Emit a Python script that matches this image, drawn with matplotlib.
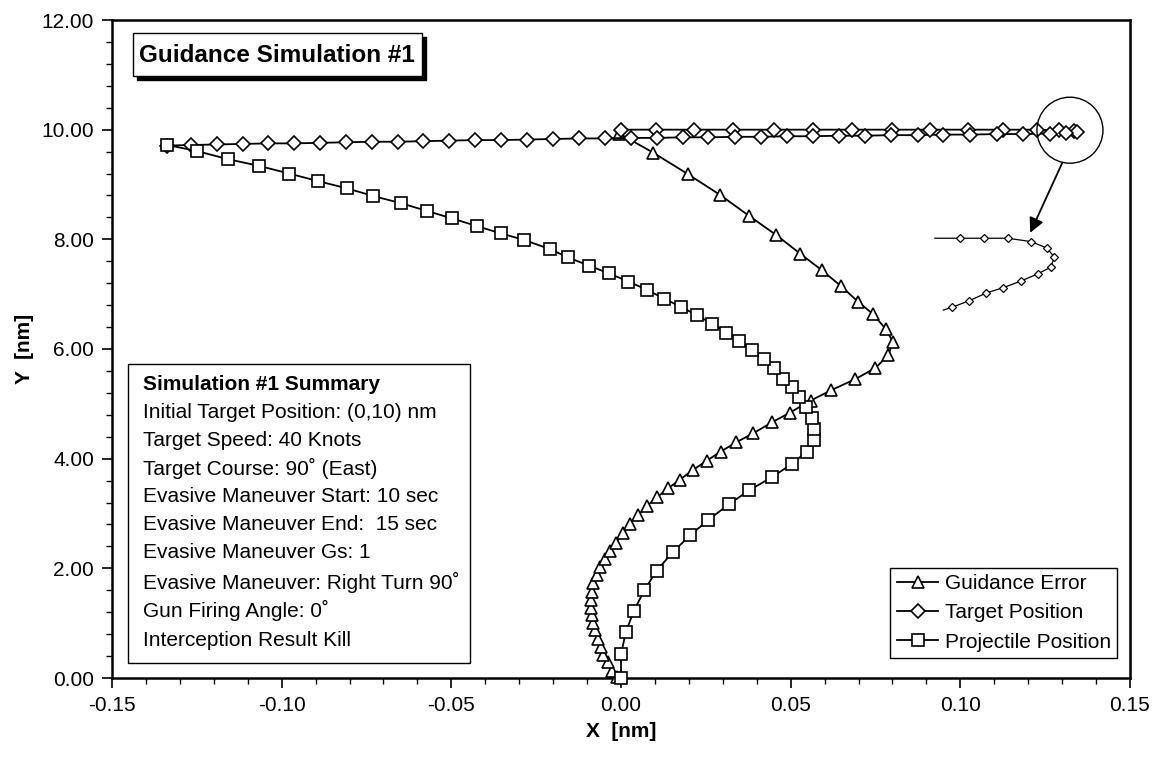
import matplotlib
matplotlib.use("Agg")
import matplotlib.pyplot as plt
from matplotlib.patches import Rectangle, Ellipse
from matplotlib.ticker import MultipleLocator, FuncFormatter

plt.rcParams['font.family'] = ['Liberation Sans', 'DejaVu Sans']
plt.rcParams['axes.unicode_minus'] = False

# Guidance error track
guid_x = [-0.0012, -0.0027, -0.0037, -0.0052, -0.0059, -0.0067, -0.0077, -0.0083, -0.0086, -0.0088,
          -0.0088, -0.0086, -0.0082, -0.0072, -0.0062, -0.0047, -0.0033, -0.0015, 0.0005, 0.0026,
          0.0051, 0.0077, 0.0107, 0.0139, 0.0174, 0.0211, 0.0252, 0.0294, 0.0340, 0.0389,
          0.0444, 0.0498, 0.0559, 0.0620, 0.0690, 0.0749, 0.0788, 0.0801, 0.0781, 0.0742,
          0.0699, 0.0648, 0.0591, 0.0528, 0.0457, 0.0377, 0.0292, 0.0197, 0.0095, -0.0005]
guid_y = [0.02, 0.13, 0.30, 0.42, 0.57, 0.72, 0.88, 1.01, 1.15, 1.28,
          1.42, 1.57, 1.73, 1.88, 2.03, 2.17, 2.32, 2.47, 2.64, 2.81,
          2.97, 3.14, 3.30, 3.46, 3.62, 3.79, 3.96, 4.13, 4.30, 4.46,
          4.66, 4.84, 5.06, 5.25, 5.45, 5.65, 5.89, 6.13, 6.36, 6.64,
          6.86, 7.15, 7.44, 7.74, 8.08, 8.43, 8.81, 9.19, 9.58, 9.93]

# Target track: eastbound leg, turn, westbound leg
target_x = [0.0000, 0.0103, 0.0216, 0.0331, 0.0451, 0.0567, 0.0682, 0.0798, 0.0911, 0.1023,
            0.1127, 0.1225, 0.1290, 0.1335, 0.1345, 0.1310,
            0.1264, 0.1186, 0.1107, 0.1028, 0.0950, 0.0874, 0.0796, 0.0719, 0.0642, 0.0565,
            0.0488, 0.0413, 0.0336, 0.0257, 0.0182, 0.0105, 0.0029, -0.0047, -0.0123, -0.0200,
            -0.0278, -0.0354, -0.0430, -0.0506, -0.0583, -0.0658, -0.0735, -0.0810, -0.0887, -0.0963,
            -0.1039, -0.1115, -0.1191, -0.1268, -0.1339]
target_y = [10.00, 10.00, 10.00, 10.00, 10.00, 10.00, 10.00, 10.00, 10.00, 10.00,
            10.00, 10.00, 9.99, 9.98, 9.96, 9.94,
            9.93, 9.92, 9.92, 9.91, 9.91, 9.90, 9.90, 9.89, 9.89, 9.88,
            9.88, 9.87, 9.87, 9.86, 9.86, 9.85, 9.85, 9.84, 9.84, 9.83,
            9.82, 9.81, 9.81, 9.80, 9.79, 9.78, 9.78, 9.77, 9.76, 9.75,
            9.75, 9.74, 9.73, 9.72, 9.71]

# Projectile track
proj_x = [0.0000, 0.0000, 0.0014, 0.0038, 0.0069, 0.0105, 0.0152, 0.0203, 0.0257, 0.0318,
          0.0377, 0.0444, 0.0503, 0.0547, 0.0569, 0.0569, 0.0562, 0.0544, 0.0525, 0.0505,
          0.0478, 0.0451, 0.0420, 0.0385, 0.0348, 0.0310, 0.0268, 0.0223, 0.0176, 0.0127,
          0.0076, 0.0022, -0.0036, -0.0094, -0.0156, -0.0209, -0.0286, -0.0355, -0.0424, -0.0497,
          -0.0573, -0.0649, -0.0730, -0.0808, -0.0892, -0.0978, -0.1067, -0.1157, -0.1250, -0.1337]
proj_y = [0.00, 0.43, 0.83, 1.23, 1.60, 1.96, 2.29, 2.60, 2.88, 3.17,
          3.42, 3.66, 3.90, 4.13, 4.34, 4.54, 4.74, 4.94, 5.13, 5.30,
          5.46, 5.65, 5.82, 5.98, 6.15, 6.30, 6.46, 6.62, 6.77, 6.92,
          7.08, 7.23, 7.38, 7.52, 7.67, 7.82, 7.99, 8.11, 8.24, 8.38,
          8.52, 8.66, 8.79, 8.93, 9.06, 9.20, 9.34, 9.46, 9.61, 9.72]

# Magnified view of the target's turn
zoom_x = [0.0925, 0.0999, 0.1071, 0.1140, 0.1207, 0.1256, 0.1277, 0.1266, 0.1228, 0.1179,
          0.1127, 0.1076, 0.1026, 0.0975, 0.0950]
zoom_y = [8.02, 8.02, 8.02, 8.02, 7.96, 7.84, 7.67, 7.49, 7.37, 7.24,
          7.12, 7.02, 6.88, 6.76, 6.71]
zoom_marked = slice(1, 14)

summary_title = "Simulation #1 Summary"
summary_lines = [
    "Initial Target Position: (0,10) nm",
    "Target Speed: 40 Knots",
    "Target Course: 90\u02da (East)",
    "Evasive Maneuver Start: 10 sec",
    "Evasive Maneuver End:  15 sec",
    "Evasive Maneuver Gs: 1",
    "Evasive Maneuver: Right Turn 90\u02da",
    "Gun Firing Angle: 0\u02da",
    "Interception Result Kill",
]

W, H = 1157, 758
fig = plt.figure(figsize=(W / 100, H / 100), dpi=100)
ax = fig.add_axes([112 / W, 1 - 678 / H, 1018 / W, 658 / H])

mk = dict(color='black', lw=1.3, markerfacecolor='white', markeredgecolor='black',
          markeredgewidth=1.2, clip_on=False)
ax.plot(guid_x, guid_y, marker='^', ms=9, label='Guidance Error', zorder=3, **mk)
ax.plot(target_x, target_y, marker='D', ms=7, label='Target Position', zorder=4, **mk)
ax.plot(proj_x, proj_y, marker='s', ms=8, label='Projectile Position', zorder=5, **mk)

# magnified turn
ax.plot(zoom_x, zoom_y, color='black', lw=0.9, zorder=3)
ax.plot(zoom_x[zoom_marked], zoom_y[zoom_marked], ls='none', marker='D', ms=4.2,
        markerfacecolor='white', markeredgecolor='black', markeredgewidth=0.9, zorder=4)
ax.add_patch(Ellipse((0.1323, 9.99), 0.01945, 1.204, fill=False, ec='black', lw=1.0, zorder=6))
ax.annotate('', xy=(0.1206, 8.12), xytext=(0.1300, 9.39),
            arrowprops=dict(arrowstyle='-|>', color='black', lw=1.3, mutation_scale=22,
                            shrinkA=0, shrinkB=0), zorder=6)

FS = 15
ax.set_xlim(-0.15, 0.15)
ax.set_ylim(0, 12)
ax.xaxis.set_major_locator(MultipleLocator(0.05))
ax.xaxis.set_minor_locator(MultipleLocator(0.01))
ax.yaxis.set_major_locator(MultipleLocator(2))
ax.yaxis.set_minor_locator(MultipleLocator(0.4))
fmt = FuncFormatter(lambda v, p: f"{0.0 if abs(v) < 1e-9 else v:.2f}")
ax.xaxis.set_major_formatter(fmt)
ax.yaxis.set_major_formatter(fmt)
ax.tick_params(which='major', direction='out', length=7, width=1.2, labelsize=FS, pad=6)
ax.tick_params(which='minor', direction='out', length=4, width=1.0)
for s in ax.spines.values():
    s.set_linewidth(1.8)
ax.set_xlabel('X  [nm]', fontsize=FS, fontweight='bold', labelpad=5)
ax.set_ylabel('Y  [nm]', fontsize=FS, fontweight='bold', labelpad=5)

leg = ax.legend(loc='lower right', bbox_to_anchor=(0.9872, 0.0304), borderaxespad=0,
                fontsize=FS, fancybox=False, edgecolor='black', framealpha=1,
                handlelength=2.0, handletextpad=0.3, borderpad=0.3, labelspacing=0.5)
leg.get_frame().set_linewidth(1.0)

def fx(px):
    return px / W

def fy(py):
    return 1 - py / H

renderer = fig.canvas.get_renderer()

# title box with drop shadow, sized to its text
title = fig.text(fx(139), fy(55), 'Guidance Simulation #1', fontsize=17.5, fontweight='bold',
                 va='center', ha='left', zorder=12)
t_right = title.get_window_extent(renderer).x1 + 7
fig.add_artist(Rectangle((fx(137), fy(80)), (t_right - 133) / W, (76 - 33) / H,
                         transform=fig.transFigure, facecolor='black', edgecolor='black', zorder=10))
fig.add_artist(Rectangle((fx(133), fy(76)), (t_right - 133) / W, (76 - 33) / H,
                         transform=fig.transFigure, facecolor='white', edgecolor='black', lw=1.0,
                         zorder=11))

# summary box
texts = [fig.text(fx(143), fy(385), summary_title, fontsize=FS, fontweight='bold',
                  va='center', ha='left', zorder=12)]
line_y = [413, 440, 468, 497, 525, 552, 582, 610, 640]
for txt, py in zip(summary_lines, line_y):
    texts.append(fig.text(fx(143), fy(py), txt, fontsize=FS, va='center', ha='left', zorder=12))
s_right = max(t.get_window_extent(renderer).x1 for t in texts) + 10
fig.add_artist(Rectangle((fx(128), fy(663)), (s_right - 128) / W, (663 - 364) / H,
                         transform=fig.transFigure, facecolor='white', edgecolor='black', lw=1.0,
                         zorder=10))

fig.savefig('out.png', dpi=100, facecolor='white')
